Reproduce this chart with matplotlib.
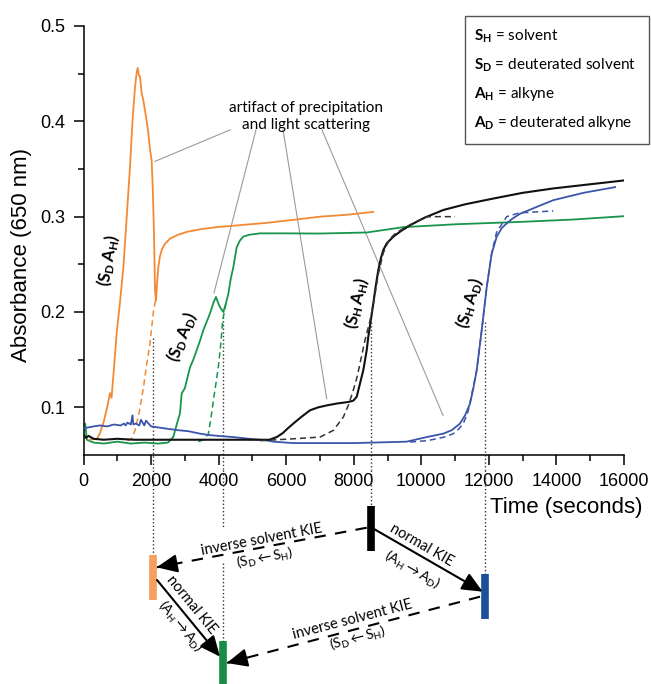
import matplotlib
matplotlib.use("Agg")
from matplotlib import pyplot as plt
from matplotlib.patches import Rectangle

plt.rcParams['font.family'] = ['Liberation Sans', 'DejaVu Sans']
plt.rcParams['mathtext.fontset'] = 'custom'
plt.rcParams['mathtext.rm'] = 'Lato'
plt.rcParams['mathtext.it'] = 'Lato:italic'
plt.rcParams['mathtext.bf'] = 'Lato:bold'

# (S_D A_H) orange
orange_x = [200, 400, 488, 600, 700, 784, 830, 900, 982,
            1080, 1180, 1280, 1376, 1450, 1525, 1570, 1604, 1640, 1673,
            1720, 1771, 1850, 1919, 1970, 2017, 2050, 2087, 2117, 2146,
            2180, 2215, 2260, 2314, 2400, 2561, 2800, 3055, 3500, 3943,
            4600, 5423, 6300, 7001, 7800, 8579]
orange_y = [0.066, 0.067, 0.073, 0.085, 0.100, 0.115, 0.110, 0.140, 0.178,
            0.210, 0.247, 0.300, 0.352, 0.400, 0.436, 0.450, 0.456, 0.448, 0.447,
            0.430, 0.422, 0.405, 0.388, 0.370, 0.359, 0.330, 0.283, 0.223, 0.212,
            0.232, 0.247, 0.258, 0.265, 0.271, 0.277, 0.281, 0.284, 0.287, 0.289,
            0.291, 0.2935, 0.297, 0.300, 0.302, 0.305]
orange_fit_x = [1300, 1426, 1525, 1650, 1771, 1870, 1968, 2067, 2140]
orange_fit_y = [0.065, 0.067, 0.076, 0.095, 0.120, 0.145, 0.167, 0.200, 0.214]

# (S_D A_D) green
green_x = [0, 50, 100, 300, 600, 1000, 1400, 1800, 2200, 2500,
           2659, 2760, 2857, 2906, 3000, 3055, 3153, 3250, 3351, 3450,
           3548, 3650, 3745, 3850, 3922, 3980, 4041, 4139, 4200, 4287,
           4360, 4435, 4535, 4631, 4731, 4900, 5225, 6000, 7001, 8384,
           9467, 11000, 12922, 14500, 16000]
green_y = [0.075, 0.083, 0.066, 0.063, 0.062, 0.064, 0.062, 0.063, 0.062, 0.063,
           0.069, 0.082, 0.094, 0.1146, 0.120, 0.128, 0.142, 0.150, 0.160, 0.170,
           0.181, 0.190, 0.1985, 0.210, 0.2158, 0.210, 0.205, 0.200, 0.207, 0.219,
           0.235, 0.247, 0.268, 0.275, 0.279, 0.281, 0.2825, 0.2825, 0.2823, 0.2834,
           0.289, 0.292, 0.2945, 0.297, 0.3005]
green_fit_x = [3400, 3550, 3695, 3770, 3843, 3920, 3990, 4060, 4120, 4230]
green_fit_y = [0.064, 0.066, 0.072, 0.088, 0.107, 0.125, 0.142, 0.165, 0.191, 0.212]

# (S_H A_H) black
black_x = [0, 60, 150, 300, 600, 1000, 1500, 2000, 2500, 3000,
           3500, 4000, 4500, 5000, 5500, 5719, 5900, 6050, 6211, 6450,
           6705, 6950, 7199, 7500, 7840, 7987, 8087, 8185, 8283, 8384,
           8431, 8500, 8579, 8650, 8727, 8800, 8875, 8976, 9171, 9400,
           9666, 10100, 10651, 11300, 12131, 13000, 13907, 15000, 16000]
black_y = [0.072, 0.068, 0.070, 0.067, 0.066, 0.067, 0.066, 0.066, 0.066, 0.066,
           0.066, 0.066, 0.066, 0.066, 0.066, 0.0688, 0.073, 0.078, 0.083, 0.090,
           0.0969, 0.100, 0.102, 0.104, 0.1056, 0.107, 0.111, 0.125, 0.139, 0.160,
           0.174, 0.190, 0.209, 0.227, 0.244, 0.256, 0.265, 0.272, 0.279, 0.285,
           0.291, 0.299, 0.307, 0.313, 0.319, 0.325, 0.3296, 0.334, 0.338]
black_fit_x = [5232, 6211, 7001, 7395, 7691, 7850, 7987, 8100, 8185, 8330,
               8481, 8600, 8727, 8875, 9050, 9250, 9467, 9800, 10160, 10600, 10998]
black_fit_y = [0.065, 0.067, 0.0688, 0.0758, 0.0898, 0.103, 0.118, 0.132, 0.146, 0.170,
               0.191, 0.212, 0.240, 0.262, 0.276, 0.283, 0.2875, 0.294, 0.300, 0.300, 0.300]

# (S_H A_D) blue
blue_x = [0, 150, 300, 488, 700, 900, 1100, 1200, 1250, 1300,
          1400, 1450, 1475, 1550, 1650, 1700, 1800, 1850, 2000, 2200,
          2463, 2800, 3100, 3449, 3700, 4000, 4435, 4900, 5423, 5619,
          6000, 6211, 7000, 8000, 9171, 9568, 10160, 10651, 10900, 11146,
          11300, 11442, 11540, 11640, 11788, 11936, 12084, 12232, 12380, 12528,
          12700, 12922, 13400, 13907, 14800, 15738]
blue_y = [0.078, 0.079, 0.080, 0.081, 0.080, 0.082, 0.081, 0.083, 0.081, 0.084,
          0.082, 0.0916, 0.082, 0.083, 0.081, 0.087, 0.081, 0.086, 0.080, 0.079,
          0.0776, 0.076, 0.075, 0.0724, 0.071, 0.070, 0.0688, 0.067, 0.0653, 0.064,
          0.063, 0.0625, 0.0625, 0.0625, 0.0636, 0.064, 0.0688, 0.0724, 0.076, 0.083,
          0.092, 0.1039, 0.120, 0.1389, 0.181, 0.226, 0.2614, 0.279, 0.288, 0.293,
          0.298, 0.303, 0.310, 0.3173, 0.325, 0.331]
blue_fit_x = [9666, 10160, 10456, 10700, 10947, 11100, 11243, 11380, 11500, 11640,
              11788, 11936, 12084, 12232, 12528, 12900, 13400, 13907]
blue_fit_y = [0.0636, 0.065, 0.067, 0.069, 0.0724, 0.077, 0.083, 0.095, 0.115, 0.1389,
              0.181, 0.226, 0.262, 0.284, 0.300, 0.304, 0.305, 0.306]

series_labels = [r'$\mathbf{(S_D\,A_H)}$', r'$\mathbf{(S_D\,A_D)}$',
                 r'$\mathbf{(S_H\,A_H)}$', r'$\mathbf{(S_H\,A_D)}$']
label_x = [728, 2916, 8097, 11442]
label_y = [0.254, 0.1735, 0.209, 0.209]
label_rot = [80, 68, 77, 73]

# half-rise times (dotted lines) and the KIE diagram bars
kie_times = [2045, 4130, 8500, 11885]
kie_start_y = [0.173, 0.195, 0.19, 0.19]
kie_colors = ['#f5a05f', '#178c46', '#000000', '#1b4f99']

legend_lines = [r'$\mathbf{S_H}$ = solvent', r'$\mathbf{S_D}$ = deuterated solvent',
                r'$\mathbf{A_H}$ = alkyne', r'$\mathbf{A_D}$ = deuterated alkyne']

c_orange = '#f28a35'
c_green = '#17964a'
c_black = '#111111'
c_blue = '#3b55aa'

fig = plt.figure(figsize=(6.51, 6.84), dpi=100)
ax = fig.add_axes([83.5 / 651, 1 - 455 / 684, 540.5 / 651, 429 / 684])

ax.plot(green_x, green_y, color=c_green, lw=1.3, zorder=2)
ax.plot(green_fit_x, green_fit_y, color=c_green, lw=1.1, dashes=(4, 2.5), zorder=2)
ax.plot(orange_x, orange_y, color=c_orange, lw=1.3, zorder=3)
ax.plot(orange_fit_x, orange_fit_y, color=c_orange, lw=1.1, dashes=(4, 2.5), zorder=3)
ax.plot(blue_x, blue_y, color=c_blue, lw=1.3, zorder=3)
ax.plot(blue_fit_x, blue_fit_y, color=c_blue, lw=1.1, dashes=(4, 2.5), zorder=3)
ax.plot(black_x, black_y, color=c_black, lw=1.5, zorder=4)
ax.plot(black_fit_x, black_fit_y, color='#333333', lw=1.1, dashes=(4, 2.5), zorder=4)

for lab, lx, ly, rot in zip(series_labels, label_x, label_y, label_rot):
    ax.text(lx, ly, lab, rotation=rot, ha='center', va='center', fontsize=12)

ax.set_xlim(0, 16000)
ax.set_ylim(0.05, 0.5)
ax.set_xticks(range(0, 16001, 2000))
ax.set_xticks(range(1000, 16000, 2000), minor=True)
ax.set_yticks([0.1, 0.2, 0.3, 0.4, 0.5])
ax.set_yticks([0.15, 0.25, 0.35, 0.45], minor=True)
ax.set_yticklabels(['0.1', '0.2', '0.3', '0.4', '0.5'])
ax.tick_params(which='major', length=7, width=1.1, labelsize=13, pad=6)
ax.tick_params(which='minor', length=4, width=1.1)
ax.spines['top'].set_visible(False)
ax.spines['right'].set_visible(False)
ax.spines['left'].set_linewidth(1.1)
ax.spines['bottom'].set_linewidth(1.1)

fig.text(22 / 651, 1 - 255 / 684, 'Absorbance (650 nm)', rotation=90,
         ha='center', va='center', fontsize=16)
fig.text(643 / 651, 1 - 507 / 684, 'Time (seconds)', ha='right', va='center', fontsize=16)

# artifact annotation
ax.text(6587, 0.405, 'artifact of precipitation\nand light scattering', ha='center',
        va='center', fontsize=11, family=['Lato', 'DejaVu Sans'], linespacing=1.25)
leader_from = [(4337, 0.391), (5106, 0.391), (5906, 0.391), (7060, 0.391)]
leader_to = [(2117, 0.358), (3863, 0.220), (7200, 0.109), (10642, 0.0916)]
for (x0, y0), (x1, y1) in zip(leader_from, leader_to):
    ax.plot([x0, x1], [y0, y1], color='#9a9a9a', lw=0.8, zorder=1)

# legend box
fig.patches.append(Rectangle((465 / 651, 1 - 144 / 684), 184 / 651, 128 / 684,
                             transform=fig.transFigure, fill=False,
                             edgecolor='#555555', lw=1.0))
for i, line in enumerate(legend_lines):
    fig.text(474 / 651, 1 - (36 + 29 * i) / 684, line, ha='left', va='center',
             fontsize=11, family=['Lato', 'DejaVu Sans'])

# dotted lines from the curves down
for t, y0 in zip(kie_times, kie_start_y):
    ax.plot([t, t], [y0, 0.034], ls=':', color='#333333', lw=1.0, clip_on=False, zorder=1)

# KIE diagram (y in pixels from the top of the figure)
ax2 = fig.add_axes([83.5 / 651, 0, 540.5 / 651, 214 / 684])
ax2.set_xlim(0, 16000)
ax2.set_ylim(684, 470)
ax2.axis('off')

bar_top = [555, 641, 506, 574]
bar_bottom = [600, 700, 551, 619]
dotted_pieces = [[(470, 555)], [(470, 528), (563, 641)], [(470, 506)], [(470, 574)]]
for t, pieces in zip(kie_times, dotted_pieces):
    for a, b in pieces:
        ax2.plot([t, t], [a, b], ls=':', color='#333333', lw=1.0)
for t, a, b, c in zip(kie_times, bar_top, bar_bottom, kie_colors):
    ax2.plot([t, t], [a, b], color=c, lw=5.5, solid_capstyle='butt', zorder=3)

arrow_start = [(8384, 527.7), (8600, 529), (2176, 580), (11738, 596.7)]
arrow_end = [(2167, 567.3), (11818, 591.7), (4041, 656.7), (4239, 663)]
arrow_dashed = [True, False, False, True]
for (x0, y0), (x1, y1), dashed in zip(arrow_start, arrow_end, arrow_dashed):
    if dashed:
        ax2.plot([x0, x1], [y0, y1], color='black', lw=1.5, dashes=(5.5, 4.5))
        xm = x1 + (x0 - x1) * 0.08
        ym = y1 + (y0 - y1) * 0.08
        ax2.annotate('', xy=(x1, y1), xytext=(xm, ym),
                     arrowprops=dict(arrowstyle='-|>,head_length=0.9,head_width=0.4',
                                     mutation_scale=14, color='black', lw=1.5,
                                     shrinkA=0, shrinkB=0))
    else:
        ax2.annotate('', xy=(x1, y1), xytext=(x0, y0),
                     arrowprops=dict(arrowstyle='-|>,head_length=0.9,head_width=0.4',
                                     mutation_scale=14, color='black', lw=1.5,
                                     shrinkA=0, shrinkB=0))

kie_texts = ['inverse solvent KIE', r'$\mathrm{(S_D}\leftarrow\mathrm{S_H)}$',
             'normal KIE', r'$\mathrm{(A_H}\rightarrow\mathrm{A_D)}$',
             'normal KIE', r'$\mathrm{(A_H}\rightarrow\mathrm{A_D)}$',
             'inverse solvent KIE', r'$\mathrm{(S_D}\leftarrow\mathrm{S_H)}$']
kie_text_x = [5275, 5373, 10012, 9716, 3203, 2857, 7978, 8126]
kie_text_y = [540, 558, 545, 570, 605, 626.7, 620, 638]
kie_text_rot = [10.7, 10.7, -30, -30, -50.6, -50.6, 14.6, 14.6]
kie_text_size = [10.5, 10, 10.5, 10, 10.5, 10, 10.5, 10]
for s, x, y, r, fs in zip(kie_texts, kie_text_x, kie_text_y, kie_text_rot, kie_text_size):
    ax2.text(x, y, s, rotation=r, ha='center', va='center', fontsize=fs,
             family=['Lato', 'DejaVu Sans'], rotation_mode='anchor')

fig.savefig('out.png', dpi=100)
